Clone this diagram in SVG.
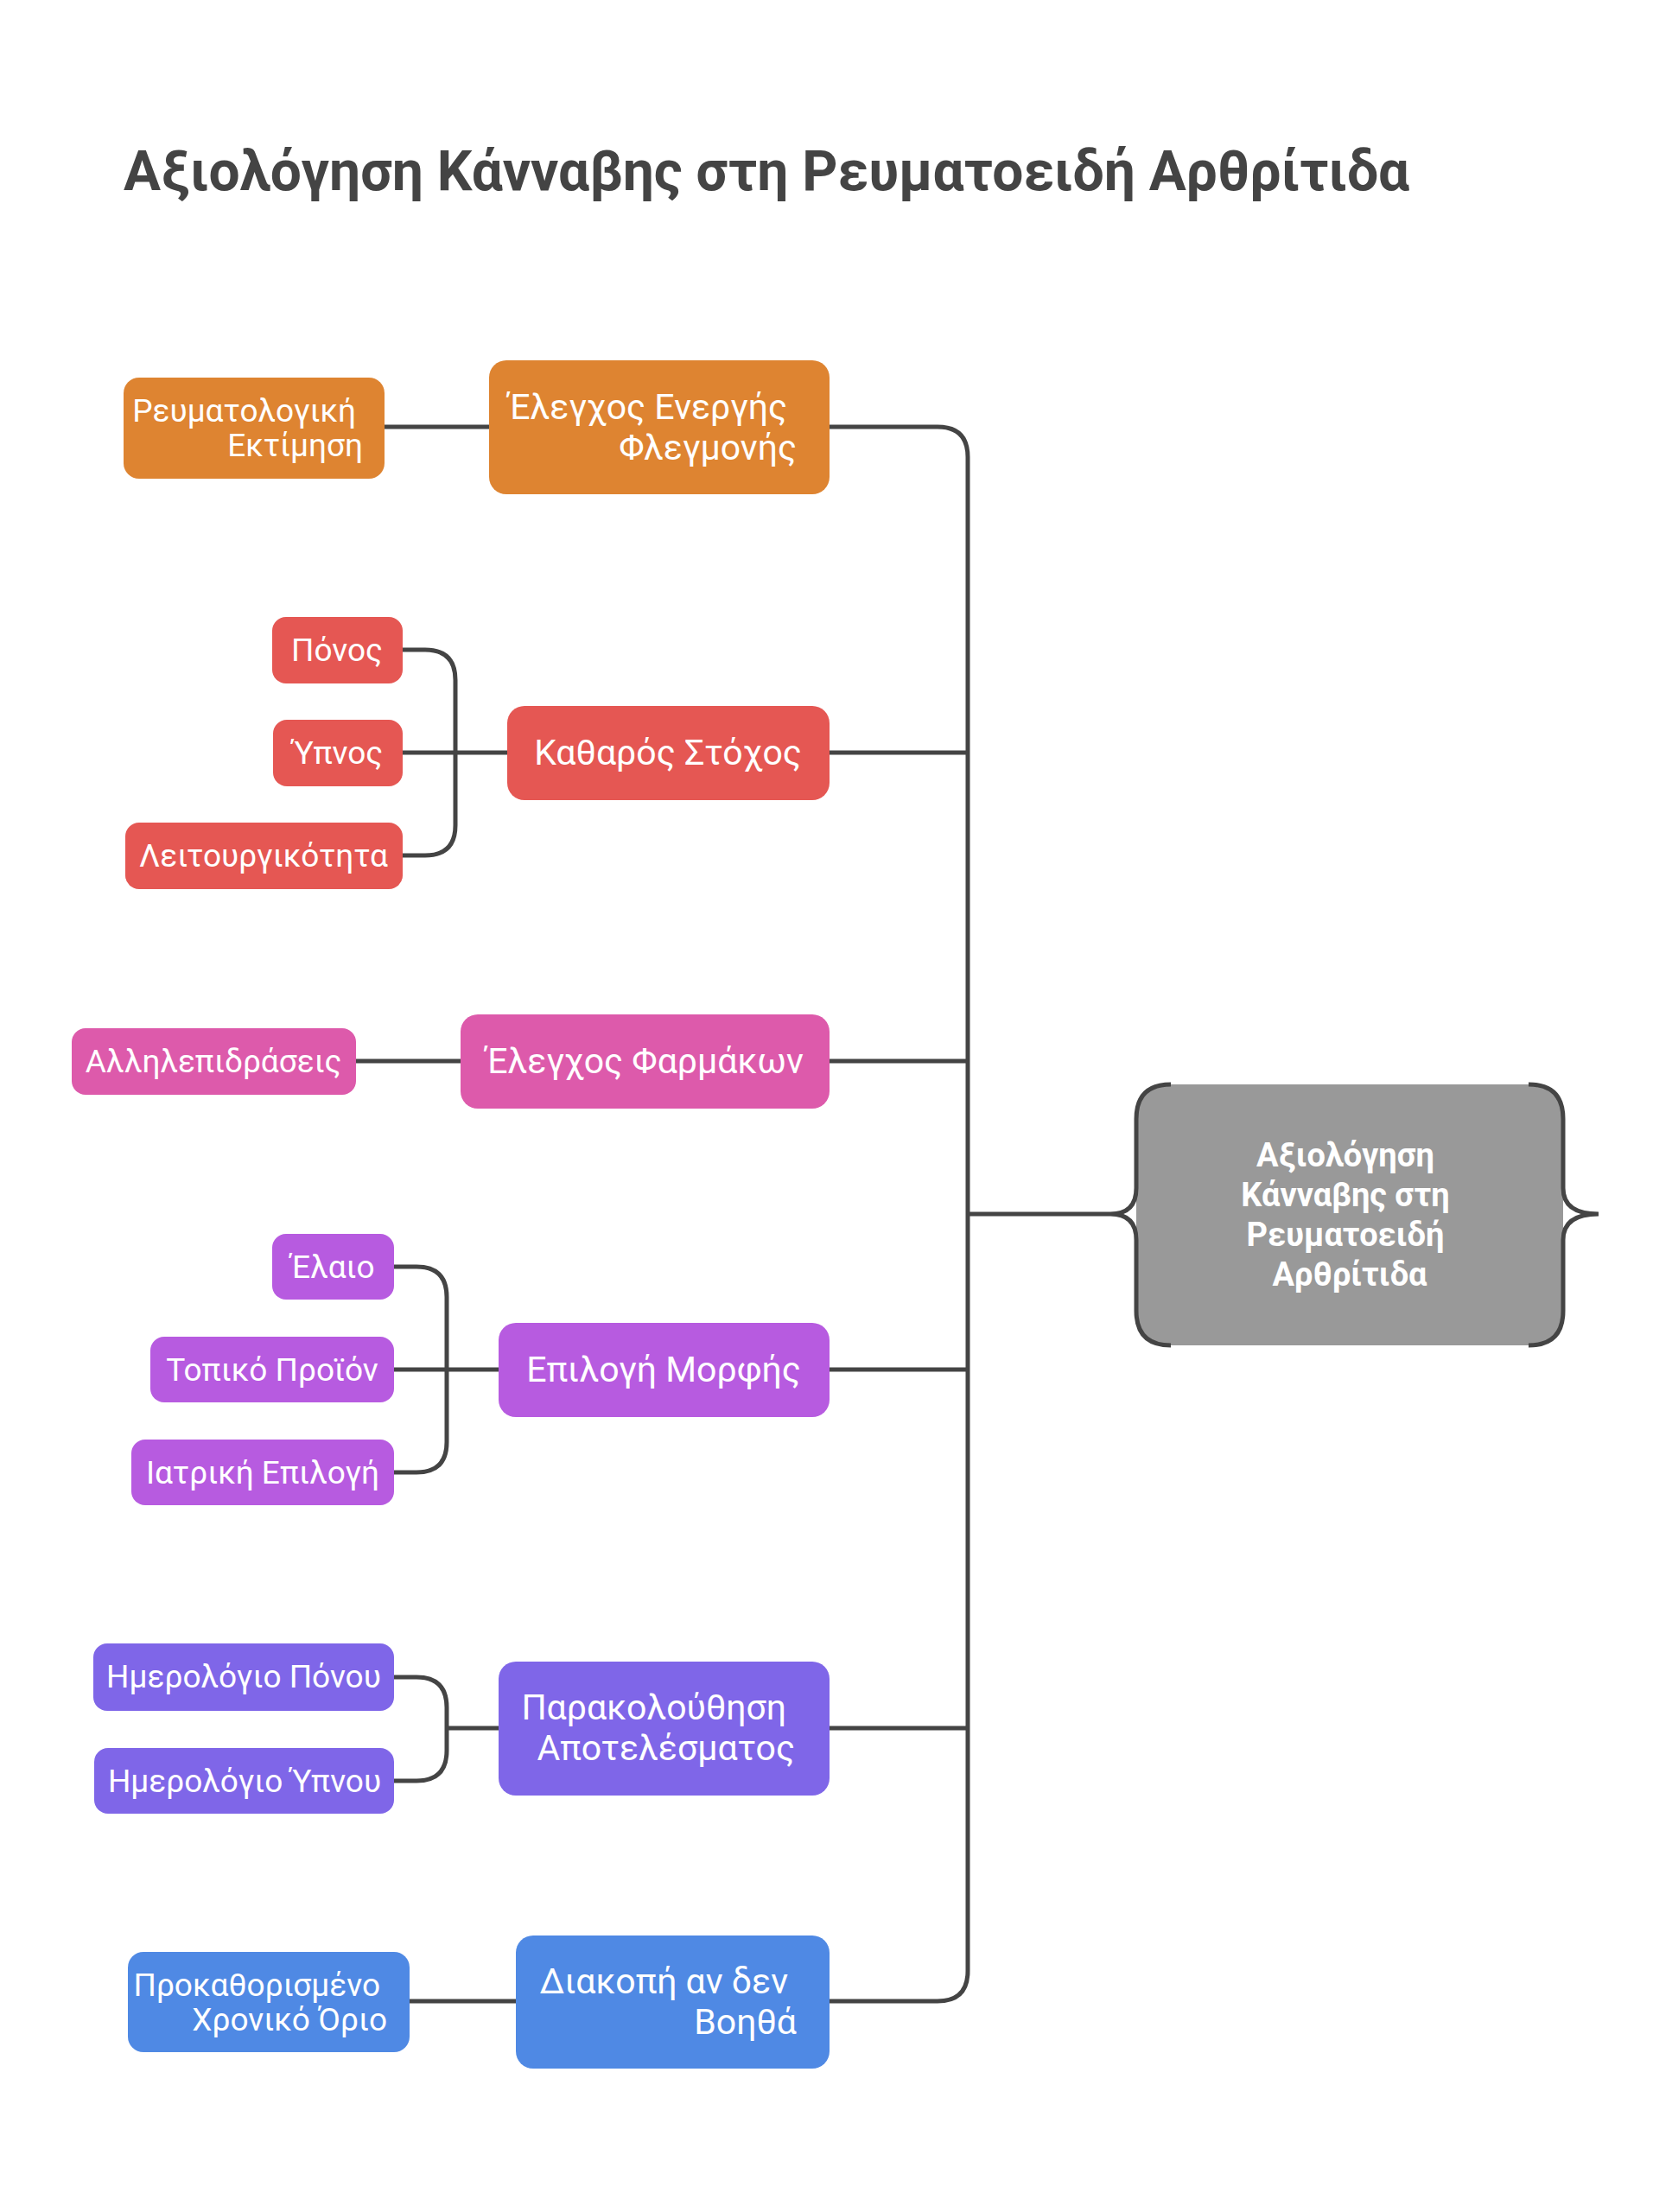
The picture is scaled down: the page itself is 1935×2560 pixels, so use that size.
<svg xmlns="http://www.w3.org/2000/svg" width="1935" height="2560" viewBox="0 0 1935 2560">
<style>
text{font-family:Roboto,"Noto Sans",sans-serif;fill:#fff}
.t{font-size:37px}.m{font-size:41px}
.c{fill:none;stroke:#444;stroke-width:5}
.o{fill:#DE8431}.r{fill:#E55753}.p{fill:#DD5AAB}.u{fill:#B75BE0}.v{fill:#7F66E8}.b{fill:#4F89E4}
</style>
<rect width="1935" height="2560" fill="#fff"/>
<text x="143" y="220" style="font-size:64px;font-weight:bold;fill:#444">Αξιολόγηση Κάνναβης στη Ρευματοειδή Αρθρίτιδα</text>
<g id="connectors" class="c">
<path d="M960 494H1085Q1120 494 1120 529V2281Q1120 2316 1085 2316H960"/>
<path d="M960 871H1120M960 1228H1120M960 1585H1120M960 2000H1120M1120 1405H1285"/>
<path d="M445 494H566M412 1228H533M474 2316H597"/>
<path d="M466 752H492Q527 752 527 787V955Q527 990 492 990H466M466 871H587"/>
<path d="M456 1466H482Q517 1466 517 1501V1669Q517 1704 482 1704H456M456 1585H577"/>
<path d="M456 1941H482Q517 1941 517 1976V2026Q517 2061 482 2061H456M517 2000H577"/>
</g>
<g id="n1"><rect class="o" x="143" y="437" width="302" height="117" rx="18"/><text class="t" text-anchor="end" x="412" y="488">Ρευματολογική</text><text class="t" text-anchor="end" x="420" y="528">Εκτίμηση</text></g>
<g id="n2"><rect class="o" x="566" y="417" width="394" height="155" rx="20"/><text class="m" text-anchor="end" x="911" y="485">Έλεγχος Ενεργής</text><text class="m" text-anchor="end" x="922" y="532">Φλεγμονής</text></g>
<g id="n3"><rect class="r" x="315" y="714" width="151" height="77" rx="16"/><text class="t" text-anchor="middle" x="390" y="765">Πόνος</text></g>
<g id="n4"><rect class="r" x="316" y="833" width="150" height="77" rx="16"/><text class="t" text-anchor="middle" x="391" y="884">Ύπνος</text></g>
<g id="n5"><rect class="r" x="145" y="952" width="321" height="77" rx="16"/><text class="t" text-anchor="middle" x="305" y="1003">Λειτουργικότητα</text></g>
<g id="n6"><rect class="r" x="587" y="817" width="373" height="109" rx="20"/><text class="m" text-anchor="middle" x="773" y="885">Καθαρός Στόχος</text></g>
<g id="n7"><rect class="p" x="83" y="1190" width="329" height="77" rx="16"/><text class="t" text-anchor="middle" x="247" y="1241">Αλληλεπιδράσεις</text></g>
<g id="n8"><rect class="p" x="533" y="1174" width="427" height="109" rx="20"/><text class="m" text-anchor="middle" x="746" y="1242">Έλεγχος Φαρμάκων</text></g>
<g id="n9"><rect class="u" x="315" y="1428" width="141" height="76" rx="16"/><text class="t" text-anchor="middle" x="385" y="1479">Έλαιο</text></g>
<g id="n10"><rect class="u" x="174" y="1547" width="282" height="76" rx="16"/><text class="t" text-anchor="middle" x="315" y="1598">Τοπικό Προϊόν</text></g>
<g id="n11"><rect class="u" x="152" y="1666" width="304" height="76" rx="16"/><text class="t" text-anchor="middle" x="304" y="1717">Ιατρική Επιλογή</text></g>
<g id="n12"><rect class="u" x="577" y="1531" width="383" height="109" rx="20"/><text class="m" text-anchor="middle" x="768" y="1599">Επιλογή Μορφής</text></g>
<g id="n13"><rect class="v" x="108" y="1902" width="348" height="78" rx="16"/><text class="t" text-anchor="middle" x="282" y="1953">Ημερολόγιο Πόνου</text></g>
<g id="n14"><rect class="v" x="109" y="2023" width="347" height="76" rx="16"/><text class="t" text-anchor="middle" x="283" y="2074">Ημερολόγιο Ύπνου</text></g>
<g id="n15"><rect class="v" x="577" y="1923" width="383" height="155" rx="20"/><text class="m" text-anchor="end" x="910" y="1990">Παρακολούθηση</text><text class="m" text-anchor="end" x="920" y="2037">Αποτελέσματος</text></g>
<g id="n16"><rect class="b" x="148" y="2259" width="326" height="116" rx="18"/><text class="t" text-anchor="end" x="440" y="2310">Προκαθορισμένο</text><text class="t" text-anchor="end" x="448" y="2350">Χρονικό Όριο</text></g>
<g id="n17"><rect class="b" x="597" y="2240" width="363" height="154" rx="20"/><text class="m" text-anchor="end" x="912" y="2307">Διακοπή αν δεν</text><text class="m" text-anchor="end" x="922" y="2354">Βοηθά</text></g>
<g id="center">
<rect x="1315" y="1255" width="494" height="302" rx="36" fill="#999"/>
<path class="c" d="M1355 1255Q1315 1255 1315 1295V1375Q1315 1405 1285 1405Q1315 1405 1315 1435V1517Q1315 1557 1355 1557"/>
<path class="c" d="M1769 1255Q1809 1255 1809 1295V1375Q1809 1405 1850 1405Q1809 1405 1809 1435V1517Q1809 1557 1769 1557"/>
<g style="font-size:38px;font-weight:bold" text-anchor="middle"><text x="1557" y="1350">Αξιολόγηση</text><text x="1557" y="1396">Κάνναβης στη</text><text x="1557" y="1442">Ρευματοειδή</text><text x="1562" y="1488">Αρθρίτιδα</text></g>
</g>
</svg>
